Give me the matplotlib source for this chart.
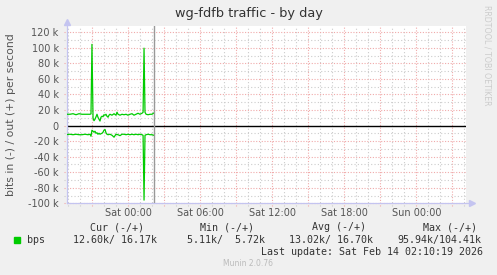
import matplotlib
matplotlib.use("Agg")
import matplotlib.pyplot as plt
import matplotlib.transforms as mtransforms

# ---------------- data (hours relative to Sat 00:00, values in k bits/s) ----------------
hours = [-5.11, -4.86, -4.61, -4.36, -4.11, -3.86, -3.61, -3.36, -3.19, -3.11,
         -3.03, -2.94, -2.86, -2.78, -2.69, -2.61, -2.53, -2.44, -2.36, -2.28,
         -2.19, -2.11, -2.03, -1.94, -1.86, -1.78, -1.69, -1.61, -1.53, -1.36,
         -1.19, -1.11, -1.03, -0.94, -0.86, -0.69, -0.53, -0.36, -0.19, -0.03,
         0.14, 0.31, 0.47, 0.64, 0.81, 0.97, 1.14, 1.23, 1.31, 1.39,
         1.48, 1.64, 1.81, 1.97, 2.14]
bps_out = [14.5, 14.5, 15.2, 13.9, 15.2, 14.5, 14.5, 14.5, 14.5, 15.0,
           104.4, 9.4, 6.2, 8.0, 11.3, 14.5, 10.7, 8.0, 5.8, 10.7,
           12.0, 11.3, 13.9, 13.3, 14.5, 12.0, 10.7, 13.3, 14.5, 13.3,
           15.2, 14.2, 13.3, 17.1, 14.5, 13.3, 14.5, 13.9, 14.5, 13.3,
           14.5, 15.2, 13.3, 14.5, 15.8, 14.5, 15.8, 17.0, 99.5, 17.0,
           14.5, 13.9, 14.5, 14.5, 16.2]
bps_in = [-11.6, -11.2, -11.8, -11.2, -11.8, -11.8, -11.2, -11.8, -11.2, -13.8,
          -6.0, -7.3, -8.6, -7.3, -9.9, -9.3, -11.2, -9.9, -11.2, -10.5,
          -9.9, -8.6, -6.0, -5.1, -9.3, -11.2, -11.8, -11.5, -11.2, -12.5,
          -15.0, -13.0, -11.2, -11.5, -11.8, -13.0, -11.2, -11.2, -11.8, -11.2,
          -11.8, -11.2, -11.8, -11.2, -11.8, -11.2, -11.8, -12.5, -95.9, -12.5,
          -11.8, -11.2, -11.8, -11.8, -12.6]
now_hour = 2.17

x_tick_hours = [0, 6, 12, 18, 24]
x_tick_labels = ["Sat 00:00", "Sat 06:00", "Sat 12:00", "Sat 18:00", "Sun 00:00"]
y_ticks = [-100, -80, -60, -40, -20, 0, 20, 40, 60, 80, 100, 120]

legend_name = "bps"
cur = [12.60, 16.17]
vmin = [5.11, 5.72]
avg = [13.02, 16.70]
vmax = [95.94, 104.41]
last_update = "Sat Feb 14 02:10:19 2026"

title = "wg-fdfb traffic - by day"
ylabel = "bits in (-) / out (+) per second"

# ---------------- figure ----------------
W, H = 497, 275
BG = "#f0f0f0"
fig = plt.figure(figsize=(W / 100, H / 100), dpi=100, facecolor=BG)

def fx(px):
    return px / W

def fy(py):
    return 1 - py / H

L, R, T, B = 67, 466, 26, 203.3
ax = fig.add_axes([fx(L), fy(B), fx(R) - fx(L), fy(T) - fy(B)])
ax.set_facecolor("white")
xlim = (-5.11, 28.14)
ylim = (-100, 128)
ax.set_xlim(*xlim)
ax.set_ylim(*ylim)
for s in ax.spines.values():
    s.set_visible(False)

GRAY = "#cccccc"
RED = "#f0aaaa"
AXC = "#c4c4f0"

# grid lines (with small tick stubs outside the plot)
xtr = mtransforms.blended_transform_factory(ax.transData, ax.transAxes)
ytr = mtransforms.blended_transform_factory(ax.transAxes, ax.transData)
h = -5
while h <= 28:
    major = (h % 3 == 0)
    ax.plot([h, h], [-0.015, 1.0], transform=xtr, clip_on=False,
            color=RED if major else GRAY, lw=0.8,
            linestyle=(0, (1, 1.5)) if major else (0, (1, 2)), zorder=1)
    h += 1
for v in range(-100, 121, 10):
    major = (v % 20 == 0)
    ax.plot([-0.007, 1.0 if v != 0 else 0], [v, v], transform=ytr, clip_on=False,
            color=RED if major else GRAY, lw=0.8,
            linestyle=(0, (1, 1.5)) if major else (0, (1, 2)), zorder=1)

# axes with arrows
ax.plot([0, 1.016], [0, 0], transform=ax.transAxes, clip_on=False, color=AXC, lw=0.9, zorder=3)
ax.plot([1.016], [0], transform=ax.transAxes, clip_on=False, marker=">", ms=4,
        color=AXC, mec=AXC, zorder=3)
ax.plot([0, 0], [0, 1.02], transform=ax.transAxes, clip_on=False, color=AXC, lw=0.9, zorder=3)
ax.plot([0], [1.02], transform=ax.transAxes, clip_on=False, marker="^", ms=4,
        color=AXC, mec=AXC, zorder=3)

# zero line
ax.axhline(0, color="black", lw=1.0, zorder=2)

# data
ax.plot(hours, bps_out, color="#00cc00", lw=0.9, zorder=4)
ax.plot(hours, bps_in, color="#00cc00", lw=0.9, zorder=4)

# current time line
ax.axvline(now_hour, color="#999999", lw=1.0, zorder=5)

# ticks / labels
TXT = "#555555"
ax.set_xticks(x_tick_hours)
ax.set_xticklabels(x_tick_labels)
ax.set_yticks(y_ticks)
ax.set_yticklabels([("%d k" % v) if v != 0 else "0" for v in y_ticks])
ax.tick_params(axis="both", length=0, labelsize=7, colors=TXT)
ax.tick_params(axis="x", pad=3.5)
ax.tick_params(axis="y", pad=6)

fig.text(0.5, fy(14), title, ha="center", va="center", fontsize=9.3, color="#333333")
fig.text(fx(11), fy(115), ylabel, ha="center", va="center", rotation=90,
         fontsize=7.8, color=TXT)
fig.text(fx(487), fy(5), "RRDTOOL / TOBI OETIKER", ha="center", va="top",
         rotation=270, fontsize=5.7, color="#cccccc")

# legend block
MONO = "DejaVu Sans Mono"
LC = "#333333"
fs = 7.2
fig.text(fx(90), fy(227.5), "Cur (-/+)", ha="left", va="center", family=MONO, fontsize=fs, color=LC)
fig.text(fx(200), fy(227.5), "Min (-/+)", ha="left", va="center", family=MONO, fontsize=fs, color=LC)
fig.text(fx(312), fy(227.5), "Avg (-/+)", ha="left", va="center", family=MONO, fontsize=fs, color=LC)
fig.text(fx(423), fy(227.5), "Max (-/+)", ha="left", va="center", family=MONO, fontsize=fs, color=LC)

fig.patches.append(plt.Rectangle((fx(14), fy(243)), fx(6), 6 / H, transform=fig.transFigure,
                                 color="#00cc00", figure=fig))
fig.text(fx(27), fy(239.7), legend_name, ha="left", va="center", family=MONO, fontsize=fs, color=LC)

def pair(a):
    return "%.2fk/%6.2fk" % (a[0], a[1])

fig.text(fx(73), fy(239.7), pair(cur), ha="left", va="center", family=MONO, fontsize=fs, color=LC)
fig.text(fx(187), fy(239.7), pair(vmin), ha="left", va="center", family=MONO, fontsize=fs, color=LC)
fig.text(fx(289), fy(239.7), pair(avg), ha="left", va="center", family=MONO, fontsize=fs, color=LC)
fig.text(fx(397), fy(239.7), pair(vmax), ha="left", va="center", family=MONO, fontsize=fs, color=LC)
fig.text(fx(483), fy(251.7), "Last update: " + last_update, ha="right", va="center",
         family=MONO, fontsize=fs, color=LC)
fig.text(fx(248), fy(264), "Munin 2.0.76", ha="center", va="center", fontsize=5.5, color="#bbbbbb")

fig.savefig("out.png", dpi=100, facecolor=BG)
